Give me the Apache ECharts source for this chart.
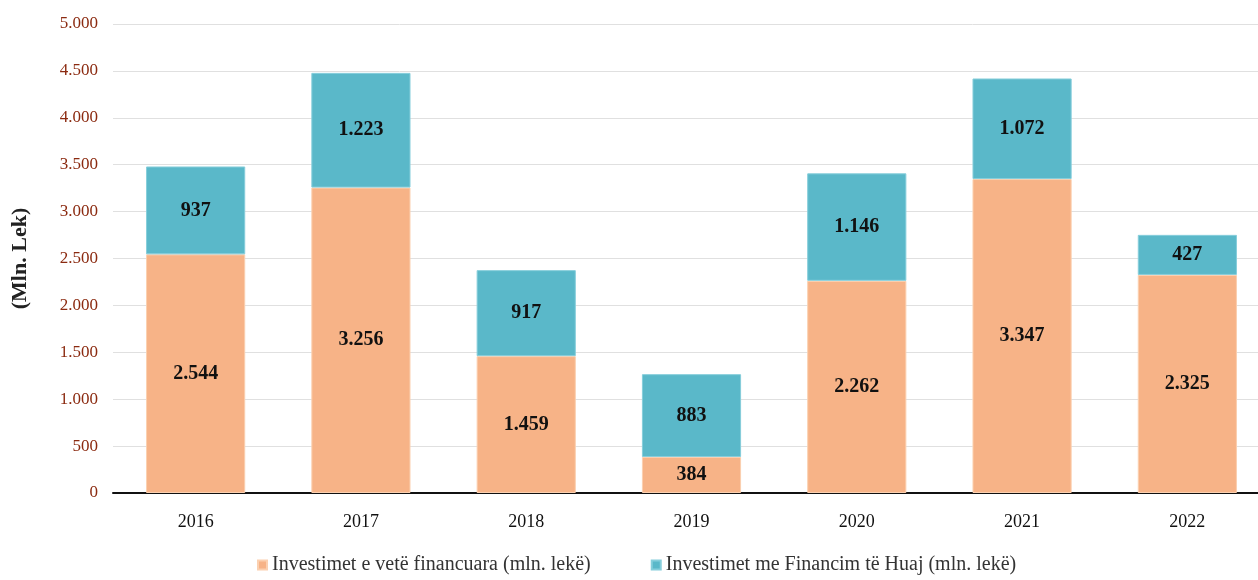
<!DOCTYPE html>
<html>
<head>
<meta charset="utf-8">
<script src="https://cdn.jsdelivr.net/npm/echarts@6/dist/echarts.min.js"></script>
<style>
  html, body { margin: 0; padding: 0; background: #fff; }
  #chart { width: 1258px; height: 580px; }
</style>
</head>
<body>
<div id="chart"></div>
<script>
const years = ['2016', '2017', '2018', '2019', '2020', '2021', '2022']
const ownFunds = [2544, 3256, 1459, 384, 2262, 3347, 2325]
const foreignFunds = [937, 1223, 917, 883, 1146, 1072, 427]
const legendNames = ['Investimet e vetë financuara (mln. lekë)', 'Investimet me Financim të Huaj (mln. lekë)']

const orange = '#F7B387'
const teal = '#5AB8C9'
const serif = '"Liberation Serif", "DejaVu Serif", serif'

// 1.234 style
const fmt = v => String(v).replace(/\B(?=(\d{3})+(?!\d))/g, '.')

const labelStyle = {
  show: true,
  position: 'inside',
  color: '#111',
  fontFamily: serif,
  fontWeight: 'bold',
  fontSize: 20,
  formatter: p => fmt(p.value)
}

const chart = echarts.init(document.getElementById('chart'))
chart.setOption({
  animation: false,
  grid: {
    top: 24,
    left: 113,
    right: -12,
    bottom: 87,
    containLabel: false,
    outerBoundsMode: 'none'
  },
  legend: {
    bottom: 0,
    left: 252,
    itemGap: 60,
    itemWidth: 9,
    itemHeight: 9,
    icon: 'rect',
    textStyle: {
      fontFamily: serif,
      fontSize: 20,
      color: '#333'
    },
    data: legendNames
  },
  xAxis: {
    type: 'category',
    data: years,
    axisTick: { show: false },
    axisLine: { lineStyle: { color: '#111', width: 2 } },
    axisLabel: {
      margin: 20,
      color: '#111',
      fontFamily: serif,
      fontSize: 18
    }
  },
  yAxis: {
    type: 'value',
    min: 0,
    max: 5000,
    interval: 500,
    name: '(Mln. Lek)',
    nameLocation: 'middle',
    nameGap: 82,
    nameTextStyle: {
      fontFamily: serif,
      fontWeight: 'bold',
      fontSize: 22,
      color: '#222'
    },
    axisLine: { show: false },
    axisTick: { show: false },
    axisLabel: {
      margin: 15,
      color: '#8B2A10',
      fontFamily: serif,
      fontSize: 17,
      formatter: v => fmt(v)
    },
    splitLine: { lineStyle: { color: '#E0E0E0', width: 1 } }
  },
  series: [
    {
      name: legendNames[0],
      type: 'bar',
      stack: 'total',
      barWidth: '60%',
      data: ownFunds,
      itemStyle: { color: orange, borderColor: '#FBD0B0', borderWidth: 1 },
      label: labelStyle
    },
    {
      name: legendNames[1],
      type: 'bar',
      stack: 'total',
      barWidth: '60%',
      data: foreignFunds,
      itemStyle: { color: teal, borderColor: '#86CEDB', borderWidth: 1 },
      label: labelStyle
    }
  ]
})
</script>
</body>
</html>
